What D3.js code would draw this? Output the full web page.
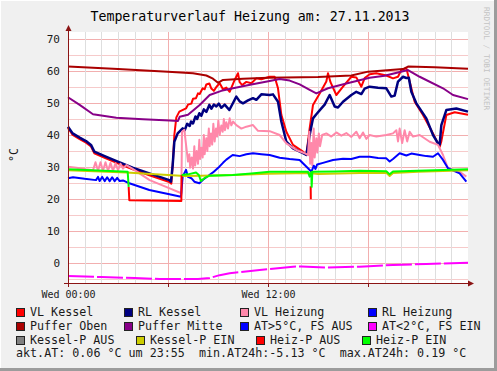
<!DOCTYPE html>
<html>
<head>
<meta charset="utf-8">
<script src="https://cdn.jsdelivr.net/npm/d3@7"></script>
<style>
  body { margin: 0; background: #F0F0F0; }
  text { font-family: "DejaVu Sans Mono", monospace; white-space: pre; }
</style>
</head>
<body>
<div id="chart"></div>
<script>
// hours since 00:00 and temperature in °C; null breaks a line
const vlKessel = [[0,42.2],[0.28,40],[0.7,38.7],[1.08,37.6],[1.38,36.4],[1.58,34.3],[2.2,32.9],[2.88,31.4],[3.88,29.3],[4.88,27.4],[6.08,25.3],[6.2,24.8],[6.3,32],[6.38,40],[6.5,45.5],[6.68,47.3],[7.08,48.3],[7.2,49.5],[7.4,49.8],[7.5,51.3],[7.68,51.5],[7.8,53],[7.9,52.8],[8.08,54.6],[8.2,54.3],[8.3,55.8],[8.48,56.1],[8.6,54.5],[8.75,53.8],[8.9,55],[9.1,56.2],[9.3,54.3],[9.5,54.8],[9.7,53.5],[9.9,56],[10.0,57.2],[10.2,59.3],[10.3,56.5],[10.45,55.6],[10.7,56.6],[11.0,56.2],[11.3,57.7],[11.6,57.4],[12.1,58.2],[12.4,58.2],[12.6,54.6],[12.8,46.3],[13.1,41],[13.5,36.9],[14.1,34.8],[14.3,33.8],[14.5,42.1],[14.7,49.4],[15.1,53],[15.5,56.7],[15.6,59.3],[15.75,56.5],[16.1,52.5],[16.5,55.1],[17.0,58.2],[17.3,58],[17.6,55.1],[17.8,57.8],[18.1,59],[18.5,59.3],[19.1,58.6],[19.5,57.7],[19.8,58.2],[20.0,60.3],[20.3,60.9],[20.5,56.7],[20.8,50.4],[21.3,46.25],[21.9,40.5],[22.3,36.3],[22.4,38],[22.7,46.25],[23.2,47.1],[24,46.3]];
const rlKessel = [[0,42.6],[0.28,40.5],[0.7,39.2],[1.08,38.1],[1.38,36.9],[1.58,34.8],[2.2,33.4],[2.88,31.9],[3.88,29.8],[4.88,28.0],[6.08,25.9],[6.18,25.4],[6.28,30.6],[6.38,37.9],[6.58,40.5],[6.88,42.1],[7.0,41.5],[7.15,43.5],[7.3,42.8],[7.38,44.2],[7.5,43.6],[7.65,45.8],[7.75,45],[7.88,46.8],[8.0,46],[8.15,48],[8.3,47.2],[8.48,49.4],[8.6,48.2],[8.75,49.5],[8.9,48.9],[9.05,49.8],[9.2,48.5],[9.4,49.5],[9.68,47.8],[9.9,50],[10.1,52.0],[10.3,50.5],[10.5,49.9],[10.8,50.8],[11.1,51.5],[11.3,51],[11.6,52.7],[12.1,52.5],[12.3,52.7],[12.6,50.4],[12.8,44.2],[13.1,37.9],[13.5,35.8],[14.1,34.3],[14.3,33.8],[14.5,40],[14.7,45.2],[14.9,46.5],[15.2,48.3],[15.4,49.5],[15.7,52.5],[16.0,48.9],[16.2,48.6],[16.5,50.4],[17.0,52.5],[17.3,53.5],[17.6,52.8],[17.8,54.5],[18.1,55.1],[18.6,54.8],[19.1,54.6],[19.4,52],[19.6,52.3],[19.8,56.7],[20.1,58.2],[20.3,57.8],[20.45,57.9],[20.6,53.5],[20.9,49.9],[21.5,45.2],[21.9,40],[22.2,37.4],[22.3,37],[22.4,43.1],[22.7,47.8],[23.3,48.3],[24,47.3]];
const vlHeizung = [[0,30.1],[0.5,29.8],[1.08,29.3],[1.5,29],[1.65,31.5],[1.8,28.8],[1.95,31.5],[2.1,28.8],[2.25,31.5],[2.4,28.8],[2.55,31.3],[2.7,28.8],[2.85,31.2],[3.0,29],[3.15,31],[3.3,29.5],[3.5,30.6],[3.88,29.4],[4.9,25.9],[6.1,23.3],[6.8,21.8],[6.84,41],[6.98,41.6],[7.2,31.7],[7.28,34],[7.33,29.8],[7.42,33],[7.5,29.5],[7.58,36.5],[7.63,30.5],[7.72,35],[7.8,31],[7.88,38.5],[7.93,32.5],[8.0,36],[8.08,33],[8.15,40],[8.2,34],[8.3,39],[8.36,35],[8.45,42],[8.5,36.5],[8.58,40.5],[8.65,37],[8.72,43.5],[8.8,38],[8.88,42],[8.95,39.5],[9.02,44.5],[9.1,40],[9.2,43],[9.28,41],[9.35,45],[9.42,41.5],[9.5,44],[9.6,42],[9.7,45.2],[9.8,43],[9.9,44.2],[10.1,43.1],[10.4,42],[10.7,42.6],[11.1,43.1],[11.4,41.3],[12.1,41.2],[12.7,40],[13.1,37.4],[13.7,35.3],[14.2,34.3],[14.4,33.7],[14.48,41],[14.53,31],[14.6,37.5],[14.66,30.5],[14.74,42],[14.8,33],[14.9,39],[14.96,34.5],[15.05,40.5],[15.12,36.5],[15.25,40],[15.5,40.5],[15.8,39.5],[16.1,40.8],[16.4,39.8],[16.7,40.6],[17.0,39.4],[17.3,41],[17.5,39],[17.7,40.8],[17.9,38.8],[18.1,40],[18.5,39.5],[19.1,40],[19.5,40.5],[19.7,41.5],[19.8,38],[19.9,42],[20.05,37.5],[20.2,41.5],[20.35,38],[20.5,41],[20.7,39.5],[21.1,40],[21.7,37.9],[22.2,36.9],[22.5,33.75],[22.8,29.6],[23.5,28.5],[23.9,27]];
const rlHeizung = [[0,26.5],[0.3,26.8],[1.0,26.3],[1.68,25.9],[1.8,26.9],[1.9,25.6],[2.05,26.9],[2.2,25.6],[2.35,26.8],[2.5,25.6],[2.65,26.8],[2.8,25.6],[2.95,26.6],[3.1,25.6],[3.3,25.8],[3.68,24.9],[4.88,22.8],[6.08,21.5],[6.78,20.7],[6.88,27],[7.08,29.1],[7.2,26.9],[7.4,26.5],[7.58,25.4],[7.88,24.9],[8.1,26],[8.48,27.5],[8.7,28.3],[9.08,30.1],[9.3,31.3],[9.5,32.3],[9.88,33.75],[10.3,33.4],[10.7,34],[11.1,34.3],[11.6,34],[12.1,33.75],[12.7,32.9],[13.3,32.5],[13.9,32.2],[14.4,29.6],[14.6,28.5],[14.75,30.4],[14.85,29.4],[14.95,30.8],[15.3,31.3],[15.9,32.2],[16.5,32.6],[17.0,32.5],[17.5,33.2],[18.1,33.2],[18.6,32.8],[19.1,32.7],[19.3,31.7],[19.5,32.5],[19.9,34.3],[20.3,33.6],[20.6,34.2],[21.1,33.75],[21.5,33.4],[21.9,33.2],[22.2,34.3],[22.5,32.2],[22.8,29.6],[23.5,28],[23.9,25.4]];
const pufferOben = [[0,61.4],[3,60.6],[6,59.8],[7.5,59.3],[8.3,58.6],[8.7,57.6],[9.0,56.3],[9.3,57.2],[10.5,57.6],[12,57.9],[15,58.1],[17,58.6],[18,59.8],[20.1,60.6],[20.4,61.4],[22,61.2],[24,60.7]];
const pufferMitte = [[0,51.8],[0.7,49.4],[1.5,46.5],[2.9,45.4],[4.5,44.9],[6.1,44.5],[6.6,44.4],[6.7,45.7],[7.2,46.3],[7.9,49.4],[8.5,52.5],[9.2,53.8],[9.9,54.6],[11,55.8],[12.1,56.9],[12.7,57.5],[13.3,57],[13.9,55.8],[14.5,54.1],[14.9,53],[15.6,54.6],[16.7,56.1],[18.1,57.9],[19,58.5],[20.4,60.3],[21.1,58.2],[22.5,54.6],[23.1,52.5],[24,51.2]];
const atKalt = [[0,-4.1],[2,-4.4],[4,-4.7],[5.5,-5.0],[7.8,-5.0],[8.5,-4.7],[9.1,-3.8],[9.7,-3.2],[11.5,-2.2],[13.5,-1.15],[14,-1.1],[15.5,-1.45],[17.5,-1.15],[19.5,-0.63],[21.5,-0.3],[24,0.1]];
const kesselPEin = [[0,29],[3.5,28.3],[6,27.5],[7,27.2],[8,27.3],[10,27.5],[12,27.9],[14.5,28.1],[15,27.8],[17.5,28.1],[19.1,28.2],[19.3,27.2],[19.5,28.1],[21,28.5],[24,29.0]];
const heizPAus = [[3.64,23.8],[3.68,19.6],[6.8,19.4],[6.82,27.5],null,[14.56,24],[14.57,19.9]];
const heizPEin = [[0,29.3],[1.8,28.9],[3.58,28.5],[3.64,23.8],null,[6.82,27.5],[7.2,27.7],[7.68,28.3],[7.85,27.5],[7.98,25.6],[8.18,26.5],[8.5,27.3],[9.88,27.5],[11,28],[12.1,28.5],[14.4,28.5],[14.5,27],[14.6,28.4],[14.62,23.8],[14.66,28.5],[16,28.6],[17.5,28.8],[19.1,28.7],[19.3,27.7],[19.5,28.6],[21,28.8],[24,29.3]];

const legendNames = ["VL Kessel", "RL Kessel", "VL Heizung", "RL Heizung",
  "Puffer Oben", "Puffer Mitte", "AT>5°C, FS AUS", "AT<2°C, FS EIN",
  "Kessel-P AUS", "Kessel-P EIN", "Heiz-P AUS", "Heiz-P EIN"];
const legendColors = ["#FF0000", "#000080", "#FF88AA", "#0000FF",
  "#AA0000", "#880088", "#0000FF", "#FF00FF",
  "#808080", "#CCCC00", "#FF0000", "#00FF00"];
const yTicks = [0, 10, 20, 30, 40, 50, 60, 70];
const xLabels = ["Wed 00:00", "Wed 12:00"];
const title = "Temperaturverlauf Heizung am: 27.11.2013";
const footer = "akt.AT: 0.06 °C um 23:55  min.AT24h:-5.13 °C  max.AT24h: 0.19 °C";

const W = 497, H = 371;
const svg = d3.select("#chart").append("svg").attr("width", W).attr("height", H);
svg.append("rect").attr("width", W).attr("height", H).attr("fill", "#F0F0F0");
// rrdtool style frame
svg.append("rect").attr("x", 0).attr("y", 0).attr("width", W).attr("height", 1).attr("fill", "#fff");
svg.append("rect").attr("x", 0).attr("y", 0).attr("width", 1).attr("height", H).attr("fill", "#fff");
svg.append("rect").attr("x", W - 3).attr("y", 0).attr("width", 3).attr("height", H).attr("fill", "#9c9c9c");
svg.append("rect").attr("x", 0).attr("y", H - 3).attr("width", W).attr("height", 3).attr("fill", "#9c9c9c");

const x = d3.scaleLinear().domain([0, 24]).range([68, 468]);
const y = d3.scaleLinear().domain([-6.5625, 72.1875]).range([284, 32]);

svg.append("rect").attr("x", 68).attr("y", 32).attr("width", 400).attr("height", 252).attr("fill", "#fff");

// grid
const grid = svg.append("g").attr("shape-rendering", "crispEdges");
grid.selectAll(".hl").data(d3.range(-5, 71, 5)).enter().append("line")
  .attr("x1", 68).attr("x2", 468)
  .attr("y1", d => Math.round(y(d)) + 0.5).attr("y2", d => Math.round(y(d)) + 0.5)
  .attr("stroke", d => d % 10 === 0 ? "#F2AFAF" : "#F6CACA");
grid.selectAll(".vl").data(d3.range(1, 24)).enter().append("line")
  .attr("x1", d => Math.round(x(d)) + 0.5).attr("x2", d => Math.round(x(d)) + 0.5)
  .attr("y1", 32).attr("y2", 284)
  .attr("stroke", d => d % 6 === 0 ? "#F2AFAF" : "#DEDEDE");

// series
const line = d3.line().defined(d => d !== null).x(d => x(d[0])).y(d => y(d[1]));
const plot = svg.append("g");
function draw(data, color, w, dash) {
  plot.append("path").datum(data).attr("d", line)
    .attr("fill", "none").attr("stroke", color).attr("stroke-width", w)
    .attr("stroke-linejoin", "round").attr("stroke-dasharray", dash || null);
}
draw(vlKessel, legendColors[0], 2);
draw(rlKessel, legendColors[1], 2.5);
draw(vlHeizung, legendColors[2], 2);
draw(rlHeizung, legendColors[3], 2);
draw(pufferOben, legendColors[4], 2);
draw(pufferMitte, legendColors[5], 2);
draw(atKalt, legendColors[7], 2, "26,3");
draw(kesselPEin, legendColors[9], 2);
draw(heizPAus, legendColors[10], 2);
draw(heizPEin, legendColors[11], 2);

// axes
const axisColor = "#8B1414";
const yAxis = svg.append("g").attr("transform", "translate(68,0)")
  .call(d3.axisLeft(y).tickValues(yTicks).tickSize(0).tickPadding(8));
yAxis.select(".domain").remove();
yAxis.selectAll("text").attr("font-size", 11).attr("fill", "#1a1a1a")
  .attr("font-family", "DejaVu Sans Mono");

const xAxis = svg.append("g").attr("transform", "translate(0,284)")
  .call(d3.axisBottom(x).tickValues([0, 6, 12, 18]).tickSize(3).tickPadding(4)
    .tickFormat(d => d === 0 ? xLabels[0] : d === 12 ? xLabels[1] : ""));
xAxis.select(".domain").remove();
xAxis.selectAll("line").attr("stroke", axisColor);
xAxis.selectAll("text").attr("font-size", 10).attr("fill", "#1a1a1a")
  .attr("font-family", "DejaVu Sans Mono");

svg.append("line").attr("x1", 68.5).attr("x2", 68.5).attr("y1", 287).attr("y2", 29)
  .attr("stroke", axisColor).attr("stroke-width", 1);
svg.append("line").attr("x1", 64).attr("x2", 470).attr("y1", 283.5).attr("y2", 283.5)
  .attr("stroke", axisColor).attr("stroke-width", 1);
svg.append("path").attr("d", "M65.5,31 L71.5,31 L68.5,25 Z").attr("fill", axisColor);
svg.append("path").attr("d", "M468,280.5 L468,286.5 L474,283.5 Z").attr("fill", axisColor);

// titles
svg.append("text").attr("x", 250).attr("y", 21).attr("text-anchor", "middle")
  .attr("font-size", 13.25).attr("fill", "#000").text(title);
svg.append("text").attr("transform", "translate(18,155) rotate(-90)")
  .attr("text-anchor", "middle").attr("font-size", 11.7).attr("fill", "#1a1a1a").text("°C");
svg.append("text").attr("transform", "translate(484,7) rotate(90)")
  .attr("font-size", 7.8).attr("fill", "#c4c4c4").text("RRDTOOL / TOBI OETIKER");

// legend
const colX = [[16, 124, 240, 368], [16, 124, 240, 368], [16, 136, 256, 362]];
const rowY = [308, 322, 336];
const leg = svg.append("g").selectAll("g").data(legendNames).enter().append("g")
  .attr("transform", (d, i) => `translate(${colX[Math.floor(i / 4)][i % 4]},${rowY[Math.floor(i / 4)]})`);
leg.append("rect").attr("x", 0.5).attr("y", 0.5).attr("width", 8).attr("height", 8)
  .attr("fill", (d, i) => legendColors[i]).attr("stroke", "#222").attr("stroke-width", 1);
leg.append("text").attr("x", 14).attr("y", 8).attr("font-size", 11.7).attr("fill", "#1a1a1a")
  .text(d => d);
svg.append("text").attr("x", 16).attr("y", 357).attr("font-size", 11.7).attr("fill", "#1a1a1a")
  .text(footer);
</script>
</body>
</html>
